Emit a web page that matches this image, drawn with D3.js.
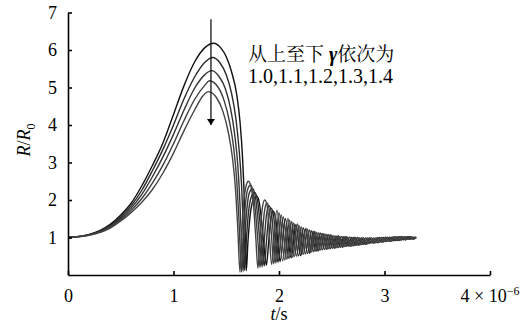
<!DOCTYPE html>
<html>
<head>
<meta charset="utf-8">
<script src="https://cdn.jsdelivr.net/npm/d3@7"></script>
<style>
  body { margin: 0; background: #fff; }
  svg { display: block; }
  .axis path, .axis line { stroke: #000; stroke-width: 1.6; }
  .curve { fill: none; stroke-width: 1.4; }
</style>
</head>
<body>
<script>
// time in units of 1e-6 s, radius R/R0
var gammas = ["1.0", "1.1", "1.2", "1.3", "1.4"];
var xTicks = [0, 1, 2, 3, 4];
var yTicks = [1, 2, 3, 4, 5, 6, 7];

var g10 = [[0,1],[0.2,1.08],[0.4,1.35],[0.5,1.6],[0.6,1.92],[0.7,2.38],[0.8,2.92],[0.9,3.52],[1.0,4.28],[1.1,5.05],[1.2,5.68],[1.3,6.07],[1.38,6.18],
  [1.45,6.05],[1.5,5.82],[1.55,5.42],[1.6,4.8],[1.63,4.1],[1.655,3.1],[1.67,2.1],[1.68,1.1],[1.69,0.12],
  [1.705,0.85],[1.725,1.55],[1.755,2.0],[1.79,2.1],[1.815,1.9],[1.84,1.3],[1.86,0.7],[1.88,0.26],[1.9,0.8],[1.92,1.42],[1.945,1.7],[1.97,1.48],[1.99,0.85],[2.01,0.36],
  [2.06,1.5],[2.115,0.46],[2.16,1.34],[2.205,0.52],[2.25,1.23],[2.29,0.58],[2.33,1.16],[2.37,0.64],[2.41,1.1],[2.45,0.69],[2.485,1.07],[2.525,0.72],[2.56,1.04],[2.6,0.75],
  [2.635,1.02],[2.675,0.77],[2.71,1.0],[2.75,0.8],[2.785,0.99],[2.825,0.82],[2.86,0.99],[2.9,0.85],[2.935,0.99],[2.975,0.88],[3.01,1.0],[3.05,0.9],[3.085,1.01],
  [3.125,0.92],[3.16,1.02],[3.2,0.94],[3.235,1.02],[3.275,0.96],[3.3,1.0]];

var g11 = [[0,1],[0.2,1.075],[0.4,1.32],[0.5,1.55],[0.6,1.85],[0.7,2.26],[0.8,2.78],[0.9,3.35],[1.0,4.0],[1.1,4.7],[1.2,5.28],[1.3,5.68],[1.37,5.8],
  [1.44,5.66],[1.5,5.34],[1.55,4.85],[1.59,4.2],[1.62,3.4],[1.645,2.4],[1.66,1.4],[1.675,0.12],
  [1.69,0.9],[1.71,1.65],[1.74,2.1],[1.77,2.2],[1.795,2.0],[1.82,1.4],[1.84,0.75],[1.86,0.24],[1.88,0.85],[1.9,1.5],[1.925,1.78],[1.95,1.55],[1.97,0.9],[1.99,0.34],
  [2.04,1.55],[2.095,0.44],[2.14,1.38],[2.185,0.51],[2.23,1.26],[2.27,0.57],[2.31,1.18],[2.35,0.63],[2.39,1.12],[2.43,0.68],[2.465,1.08],[2.505,0.71],[2.54,1.04],[2.58,0.74],
  [2.615,1.02],[2.655,0.77],[2.69,1.0],[2.73,0.79],[2.765,0.99],[2.805,0.82],[2.84,0.99],[2.88,0.85],[2.915,0.99],[2.955,0.87],[2.99,1.0],[3.03,0.9],[3.065,1.01],
  [3.105,0.92],[3.14,1.02],[3.18,0.94],[3.215,1.02],[3.255,0.96],[3.29,1.01],[3.3,1.0]];

var g12 = [[0,1],[0.2,1.07],[0.4,1.3],[0.5,1.51],[0.6,1.79],[0.7,2.15],[0.8,2.62],[0.9,3.15],[1.0,3.75],[1.1,4.4],[1.2,4.98],[1.3,5.35],[1.36,5.45],
  [1.43,5.3],[1.49,4.98],[1.54,4.45],[1.58,3.75],[1.61,2.9],[1.63,1.9],[1.645,0.9],[1.66,0.1],
  [1.675,0.95],[1.695,1.75],[1.72,2.2],[1.75,2.3],[1.775,2.1],[1.8,1.5],[1.82,0.8],[1.84,0.22],[1.86,0.9],[1.88,1.58],[1.905,1.85],[1.93,1.62],[1.95,0.95],[1.97,0.32],
  [2.02,1.6],[2.075,0.42],[2.12,1.42],[2.165,0.5],[2.21,1.29],[2.25,0.56],[2.29,1.2],[2.33,0.62],[2.37,1.13],[2.41,0.67],[2.445,1.09],[2.485,0.7],[2.52,1.05],[2.56,0.73],
  [2.595,1.03],[2.635,0.76],[2.67,1.01],[2.71,0.78],[2.745,1.0],[2.785,0.81],[2.82,0.99],[2.86,0.84],[2.895,0.99],[2.935,0.86],[2.97,1.0],[3.01,0.89],[3.045,1.01],
  [3.085,0.91],[3.12,1.02],[3.16,0.93],[3.195,1.02],[3.235,0.95],[3.27,1.01],[3.3,0.99]];

var g13 = [[0,1],[0.2,1.065],[0.4,1.27],[0.5,1.47],[0.6,1.73],[0.7,2.04],[0.8,2.45],[0.9,2.93],[1.0,3.5],[1.1,4.12],[1.2,4.68],[1.3,5.07],[1.34,5.18],
  [1.42,5.02],[1.48,4.65],[1.53,4.1],[1.57,3.4],[1.6,2.5],[1.62,1.5],[1.645,0.08],
  [1.66,1.0],[1.68,1.85],[1.705,2.3],[1.73,2.4],[1.755,2.2],[1.78,1.6],[1.8,0.9],[1.82,0.2],[1.84,0.95],[1.86,1.65],[1.885,1.92],[1.91,1.7],[1.93,1.0],[1.95,0.3],
  [2.0,1.66],[2.055,0.4],[2.1,1.46],[2.145,0.49],[2.19,1.32],[2.23,0.55],[2.27,1.22],[2.31,0.61],[2.35,1.15],[2.39,0.66],[2.425,1.1],[2.465,0.69],[2.5,1.06],[2.54,0.72],
  [2.575,1.03],[2.615,0.75],[2.65,1.01],[2.69,0.77],[2.725,1.0],[2.765,0.8],[2.8,0.99],[2.84,0.83],[2.875,0.99],[2.915,0.86],[2.95,1.0],[2.99,0.88],[3.025,1.01],
  [3.065,0.9],[3.1,1.02],[3.14,0.92],[3.175,1.02],[3.215,0.95],[3.25,1.02],[3.285,0.97],[3.3,1.0]];

var g14 = [[0,1],[0.2,1.06],[0.4,1.25],[0.5,1.44],[0.6,1.67],[0.7,1.94],[0.8,2.28],[0.9,2.72],[1.0,3.25],[1.1,3.85],[1.2,4.4],[1.28,4.78],[1.33,4.89],
  [1.41,4.72],[1.47,4.35],[1.52,3.8],[1.56,3.1],[1.59,2.2],[1.61,1.2],[1.63,0.08],
  [1.645,1.0],[1.665,1.9],[1.69,2.4],[1.71,2.5],[1.735,2.35],[1.76,1.8],[1.78,1.0],[1.8,0.18],[1.82,1.0],[1.84,1.75],[1.865,2.0],[1.89,1.8],[1.91,1.0],[1.93,0.28],
  [1.98,1.73],[2.035,0.38],[2.085,1.51],[2.13,0.47],[2.175,1.36],[2.215,0.54],[2.255,1.25],[2.295,0.6],[2.335,1.17],[2.375,0.65],[2.41,1.11],[2.45,0.68],[2.485,1.07],[2.525,0.71],
  [2.56,1.04],[2.6,0.74],[2.635,1.02],[2.675,0.77],[2.71,1.0],[2.75,0.8],[2.785,0.99],[2.825,0.82],[2.86,0.99],[2.9,0.85],[2.935,1.0],[2.975,0.88],[3.01,1.01],
  [3.05,0.9],[3.085,1.02],[3.125,0.92],[3.16,1.03],[3.2,0.94],[3.235,1.03],[3.27,0.96],[3.3,1.01]];

var curves = [g10, g11, g12, g13, g14];
var curveColors = ["#111", "#2a2a2a", "#333", "#3d3d3d", "#444"];

// arrow through the peaks (t, R from -> to)
var arrowT = 1.355, arrowFrom = 6.82, arrowTo = 4.0;

var serif = "'Liberation Serif', 'Times New Roman', serif";

var width = 529,
    height = 325;

var svg = d3.select("body").append("svg")
    .attr("width", width)
    .attr("height", height);

var x = d3.scaleLinear().domain([0, 4]).range([68, 490]);
var y = d3.scaleLinear().domain([0, 7]).range([275, 12.5]);

var line = d3.line()
    .curve(d3.curveMonotoneX)
    .x(function(d) { return x(d[0]); })
    .y(function(d) { return y(d[1]); });

svg.append("g")
  .selectAll("path")
    .data(curves)
  .enter().append("path")
    .attr("class", "curve")
    .attr("stroke", function(d, i) { return curveColors[i]; })
    .attr("d", line);

// axes, ticks pointing inward
var xAxis = svg.append("g")
    .attr("class", "axis")
    .attr("transform", "translate(0," + y(0) + ")")
    .call(d3.axisBottom(x).tickValues(xTicks).tickSizeInner(-4).tickSizeOuter(0).tickPadding(14)
      .tickFormat(function(d) { return d === 4 ? "" : d; }));

var yAxis = svg.append("g")
    .attr("class", "axis")
    .attr("transform", "translate(" + x(0) + ",0)")
    .call(d3.axisLeft(y).tickValues(yTicks).tickSizeInner(-4).tickSizeOuter(0).tickPadding(11)
      .tickFormat(function(d) { return d; }));

xAxis.selectAll("text").style("font-family", serif).style("font-size", "18px").attr("fill", "#000");
yAxis.selectAll("text").style("font-family", serif).style("font-size", "18px").attr("fill", "#000");

// "4 x 10^-6" label under last tick
var lab4 = svg.append("text")
    .attr("x", x(4))
    .attr("y", y(0) + 27)
    .attr("text-anchor", "middle")
    .style("font-family", serif)
    .style("font-size", "18px");
lab4.append("tspan").text("4 × 10");
lab4.append("tspan").attr("dy", -7).style("font-size", "12px").text("−6");

// axis titles
var xt = svg.append("text")
    .attr("x", (x(0) + x(4)) / 2)
    .attr("y", 320)
    .attr("text-anchor", "middle")
    .style("font-family", serif)
    .style("font-size", "18px");
xt.append("tspan").style("font-style", "italic").text("t");
xt.append("tspan").text("/s");

var yt = svg.append("text")
    .attr("transform", "translate(30," + y(3.6) + ") rotate(-90)")
    .attr("text-anchor", "middle")
    .style("font-family", serif)
    .style("font-size", "18px");
yt.append("tspan").style("font-style", "italic").text("R");
yt.append("tspan").text("/");
yt.append("tspan").style("font-style", "italic").text("R");
yt.append("tspan").attr("dy", 5).style("font-size", "12px").text("0");

// arrow
svg.append("defs").append("marker")
    .attr("id", "head")
    .attr("viewBox", "0 0 6 12")
    .attr("refX", 6).attr("refY", 6)
    .attr("markerWidth", 6).attr("markerHeight", 12)
    .attr("markerUnits", "userSpaceOnUse")
    .attr("orient", "auto")
  .append("path")
    .attr("d", "M0,2L6,6L0,10Z")
    .attr("fill", "#000");

svg.append("line")
    .attr("x1", x(arrowT)).attr("x2", x(arrowT))
    .attr("y1", y(arrowFrom)).attr("y2", y(arrowTo))
    .attr("stroke", "#000")
    .attr("stroke-width", 1.2)
    .attr("marker-end", "url(#head)");

// annotation
var note = svg.append("text")
    .attr("x", 248)
    .attr("y", 61)
    .style("font-family", "'Noto Serif CJK SC', 'Noto Sans CJK SC', serif")
    .style("font-size", "19px");
note.append("tspan").text("从上至下 ");
note.append("tspan")
    .style("font-family", serif)
    .style("font-style", "italic")
    .style("font-weight", "bold")
    .style("font-size", "20px")
    .text("γ");
note.append("tspan").text("依次为");

svg.append("text")
    .attr("x", 248)
    .attr("y", 83)
    .style("font-family", serif)
    .style("font-size", "20px")
    .text(gammas.join(","));
</script>
</body>
</html>
